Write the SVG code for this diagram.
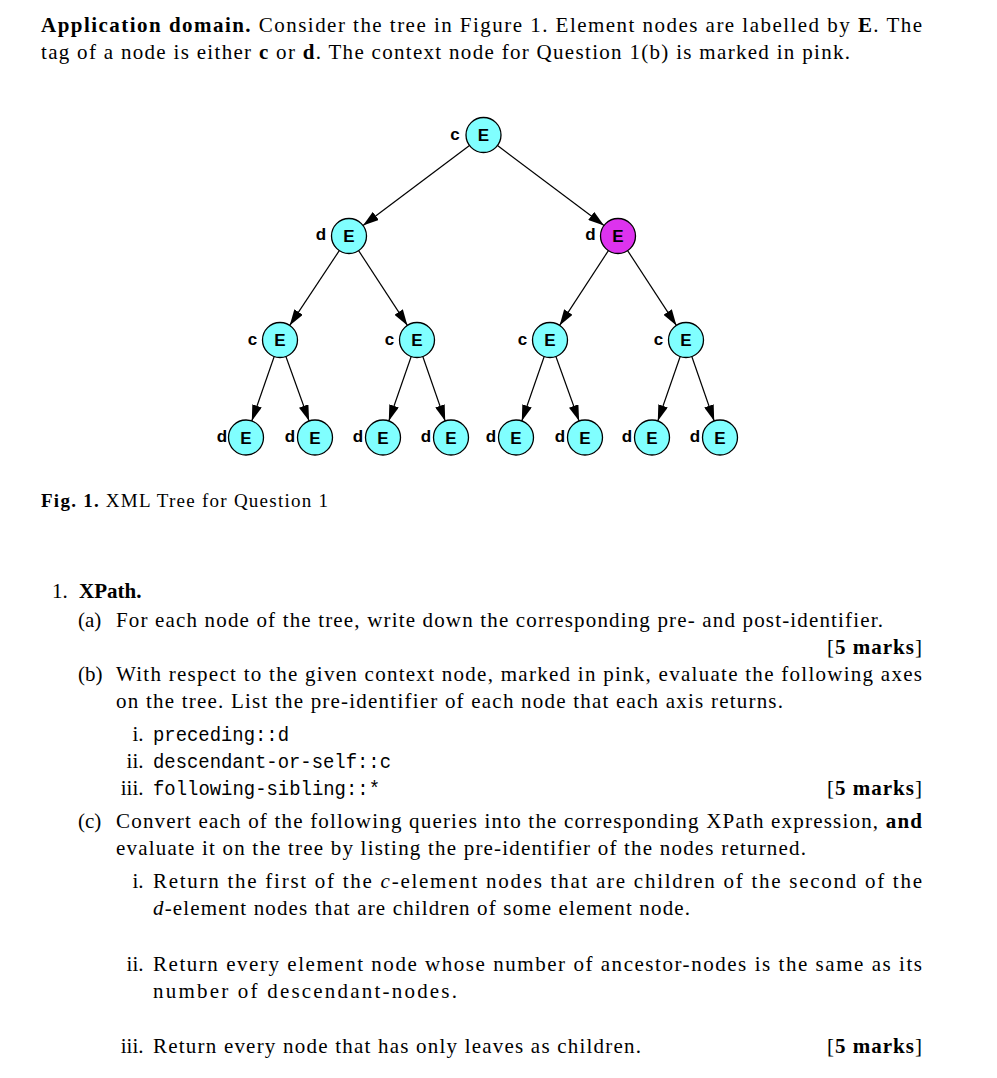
<svg xmlns="http://www.w3.org/2000/svg" width="997" height="1078" viewBox="0 0 997 1078">
<defs>
<style>
.t{font-family:"Liberation Serif","Times New Roman",serif;font-size:21px;fill:#000}
.b{font-weight:bold}
.i{font-style:italic}
.m{font-family:"Liberation Mono","Courier New",monospace;font-size:20px;fill:#000}
.cap{font-family:"Liberation Serif","Times New Roman",serif;font-size:19px;fill:#000}
.nd{fill:#80ffff;stroke:#000;stroke-width:1.3}
.pk{fill:#dd33ee;stroke:#000;stroke-width:1.3}
.E{font-family:"Liberation Sans",Arial,sans-serif;font-weight:bold;font-size:17px;text-anchor:middle;fill:#000}
.lb{font-family:"Liberation Sans",Arial,sans-serif;font-weight:bold;font-size:17px;text-anchor:middle;fill:#000}
.ed{stroke:#000;stroke-width:1.2;fill:none;marker-end:url(#ah)}
</style>
<marker id="ah" viewBox="0 0 16 10" refX="16" refY="5" markerWidth="16" markerHeight="10" orient="auto" markerUnits="userSpaceOnUse">
<path d="M0,0 L16,5 L0,10 z" fill="#000"/>
</marker>
</defs>
<rect width="997" height="1078" fill="#fff"/>

<!-- paragraph -->
<text class="t" x="41" y="32" textLength="881" lengthAdjust="spacing"><tspan class="b">Application domain.</tspan> Consider the tree in Figure 1. Element nodes are labelled by <tspan class="b">E</tspan>. The</text>
<text class="t" x="41" y="59" textLength="809" lengthAdjust="spacing">tag of a node is either <tspan class="b">c</tspan> or <tspan class="b">d</tspan>. The context node for Question 1(b) is marked in pink.</text>

<!-- connectors -->
<g id="connectors">
<line class="ed" x1="469.5" y1="145.5" x2="363" y2="225.5"/>
<line class="ed" x1="497.5" y1="145.5" x2="604" y2="225.5"/>
<line class="ed" x1="339.3" y1="250.6" x2="289.7" y2="325.4"/>
<line class="ed" x1="358.6" y1="250.6" x2="407.4" y2="325.4"/>
<line class="ed" x1="608.4" y1="250.6" x2="559.6" y2="325.4"/>
<line class="ed" x1="627.6" y1="250.6" x2="676.4" y2="325.4"/>
<line class="ed" x1="274.2" y1="356.5" x2="251.8" y2="421"/>
<line class="ed" x1="285.9" y1="356.5" x2="309.1" y2="421"/>
<line class="ed" x1="411.2" y1="356.5" x2="388.8" y2="421"/>
<line class="ed" x1="422.8" y1="356.5" x2="445.2" y2="421"/>
<line class="ed" x1="544.2" y1="356.5" x2="521.8" y2="421"/>
<line class="ed" x1="555.9" y1="356.5" x2="579.1" y2="421"/>
<line class="ed" x1="680.2" y1="356.5" x2="657.8" y2="421"/>
<line class="ed" x1="691.8" y1="356.5" x2="714.2" y2="421"/>
</g>

<!-- nodes -->
<g id="n0"><text class="lb" x="455" y="140">c</text><circle class="nd" cx="483.5" cy="135" r="17.5"/><text class="E" x="483.5" y="141">E</text></g>
<g id="n1"><text class="lb" x="321" y="240">d</text><circle class="nd" cx="349" cy="236" r="17.5"/><text class="E" x="349" y="242">E</text></g>
<g id="n2"><text class="lb" x="590.5" y="240">d</text><circle class="pk" cx="618" cy="236" r="17.5"/><text class="E" x="618" y="242">E</text></g>
<g id="n3"><text class="lb" x="252.5" y="345">c</text><circle class="nd" cx="280" cy="340" r="17.5"/><text class="E" x="280" y="346">E</text></g>
<g id="n4"><text class="lb" x="389.5" y="345">c</text><circle class="nd" cx="417" cy="340" r="17.5"/><text class="E" x="417" y="346">E</text></g>
<g id="n5"><text class="lb" x="522.5" y="345">c</text><circle class="nd" cx="550" cy="340" r="17.5"/><text class="E" x="550" y="346">E</text></g>
<g id="n6"><text class="lb" x="658.5" y="345">c</text><circle class="nd" cx="686" cy="340" r="17.5"/><text class="E" x="686" y="346">E</text></g>
<g id="n7"><text class="lb" x="222" y="442">d</text><circle class="nd" cx="246" cy="437.5" r="17.5"/><text class="E" x="246" y="443.5">E</text></g>
<g id="n8"><text class="lb" x="290" y="442">d</text><circle class="nd" cx="315" cy="437.5" r="17.5"/><text class="E" x="315" y="443.5">E</text></g>
<g id="n9"><text class="lb" x="358" y="442">d</text><circle class="nd" cx="383" cy="437.5" r="17.5"/><text class="E" x="383" y="443.5">E</text></g>
<g id="n10"><text class="lb" x="426" y="442">d</text><circle class="nd" cx="451" cy="437.5" r="17.5"/><text class="E" x="451" y="443.5">E</text></g>
<g id="n11"><text class="lb" x="491" y="442">d</text><circle class="nd" cx="516" cy="437.5" r="17.5"/><text class="E" x="516" y="443.5">E</text></g>
<g id="n12"><text class="lb" x="560" y="442">d</text><circle class="nd" cx="585" cy="437.5" r="17.5"/><text class="E" x="585" y="443.5">E</text></g>
<g id="n13"><text class="lb" x="627" y="442">d</text><circle class="nd" cx="652" cy="437.5" r="17.5"/><text class="E" x="652" y="443.5">E</text></g>
<g id="n14"><text class="lb" x="695" y="442">d</text><circle class="nd" cx="720" cy="437.5" r="17.5"/><text class="E" x="720" y="443.5">E</text></g>

<!-- caption -->
<text class="cap" x="41" y="507" textLength="287" lengthAdjust="spacing"><tspan class="b">Fig. 1.</tspan> XML Tree for Question 1</text>

<!-- questions -->
<text class="t" x="52" y="598">1.</text>
<text class="t b" x="79" y="598">XPath.</text>

<text class="t" x="78" y="627">(a)</text>
<text class="t" x="116" y="627" textLength="767" lengthAdjust="spacing">For each node of the tree, write down the corresponding pre- and post-identifier.</text>
<text class="t" x="827" y="654" textLength="95" lengthAdjust="spacing">[<tspan class="b">5 marks</tspan>]</text>

<text class="t" x="78" y="681">(b)</text>
<text class="t" x="116" y="681" textLength="806" lengthAdjust="spacing">With respect to the given context node, marked in pink, evaluate the following axes</text>
<text class="t" x="116" y="708" textLength="667" lengthAdjust="spacing">on the tree. List the pre-identifier of each node that each axis returns.</text>

<text class="t" x="143.5" y="741" text-anchor="end">i.</text>
<text class="m" x="153" y="741" textLength="136" lengthAdjust="spacingAndGlyphs">preceding::d</text>
<text class="t" x="143.5" y="768" text-anchor="end">ii.</text>
<text class="m" x="153" y="768" textLength="238" lengthAdjust="spacingAndGlyphs">descendant-or-self::c</text>
<text class="t" x="143.5" y="795" text-anchor="end">iii.</text>
<text class="m" x="153" y="795" textLength="227" lengthAdjust="spacingAndGlyphs">following-sibling::*</text>
<text class="t" x="827" y="795" textLength="95" lengthAdjust="spacing">[<tspan class="b">5 marks</tspan>]</text>

<text class="t" x="78" y="828">(c)</text>
<text class="t" x="116" y="828" textLength="806" lengthAdjust="spacing">Convert each of the following queries into the corresponding XPath expression, <tspan class="b">and</tspan></text>
<text class="t" x="116" y="855" textLength="690" lengthAdjust="spacing">evaluate it on the tree by listing the pre-identifier of the nodes returned.</text>

<text class="t" x="143.5" y="888" text-anchor="end">i.</text>
<text class="t" x="153" y="888" textLength="769" lengthAdjust="spacing">Return the first of the <tspan class="i">c</tspan>-element nodes that are children of the second of the</text>
<text class="t" x="153" y="915" textLength="537" lengthAdjust="spacing"><tspan class="i">d</tspan>-element nodes that are children of some element node.</text>

<text class="t" x="143.5" y="971" text-anchor="end">ii.</text>
<text class="t" x="153" y="971" textLength="769" lengthAdjust="spacing">Return every element node whose number of ancestor-nodes is the same as its</text>
<text class="t" x="153" y="998" textLength="304" lengthAdjust="spacing">number of descendant-nodes.</text>

<text class="t" x="143.5" y="1053" text-anchor="end">iii.</text>
<text class="t" x="153" y="1053" textLength="488" lengthAdjust="spacing">Return every node that has only leaves as children.</text>
<text class="t" x="827" y="1053" textLength="95" lengthAdjust="spacing">[<tspan class="b">5 marks</tspan>]</text>
</svg>
